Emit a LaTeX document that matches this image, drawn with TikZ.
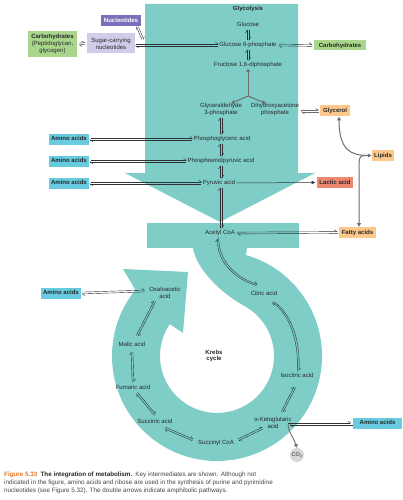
\documentclass[tikz,border=0pt]{standalone}
\usepackage{fontspec}
\setmainfont{Liberation Sans}
\usetikzlibrary{arrows.meta,calc}
\definecolor{tealA}{RGB}{126,205,199}
\definecolor{aminoC}{RGB}{104,203,224}
\definecolor{carbC}{RGB}{170,214,140}
\definecolor{lipC}{RGB}{252,200,140}
\definecolor{lactC}{RGB}{240,135,112}
\definecolor{nucC}{RGB}{124,110,186}
\definecolor{sugC}{RGB}{208,204,234}
\definecolor{txtC}{RGB}{40,40,40}
\definecolor{lineC}{RGB}{45,50,55}
\definecolor{grayA}{RGB}{110,110,110}
\definecolor{co2C}{RGB}{215,215,215}
\definecolor{figC}{RGB}{232,120,40}
\definecolor{capC}{RGB}{70,70,70}
\newcommand\amph[3][]{%
  \draw[harp,#1] ($(#2)!0.9pt!90:(#3)$) -- ($(#3)!0.9pt!-90:(#2)$);
  \draw[harp,#1] ($(#3)!0.9pt!90:(#2)$) -- ($(#2)!0.9pt!-90:(#3)$);}
\begin{document}
\begin{tikzpicture}[x=1pt,y=-1pt,
  harp/.style={draw=lineC, line width=0.4pt, -{Straight Barb[harpoon,length=2.6pt,width=3.6pt]}},
  garr/.style={draw=grayA, line width=1pt, -{Triangle[length=3.6pt,width=3.8pt]}},
  darr/.style={draw=lineC, line width=0.5pt, -{Triangle[length=3.6pt,width=3.4pt]}},
  lbl/.style={inner sep=0.6pt, align=center, text=txtC, font=\fontsize{6}{6.8}\selectfont, text height=4.4pt, text depth=1.2pt},
  bx/.style={inner xsep=2.6pt, inner ysep=2pt, minimum height=11pt, align=center, text=txtC, font=\fontsize{6}{6.8}\selectfont\bfseries, text height=4.4pt, text depth=1.2pt}]
\useasboundingbox (0,0) rectangle (403,500);
\fill[white] (0,0) rectangle (403,500);
% big teal shapes
\fill[tealA] (145,4) -- (298,4) -- (298,173) -- (315,173) -- (220,222) -- (125,173) -- (145,173) -- cycle;
\fill[tealA] (147,223) rectangle (299,248);
\fill[tealA] (193,248) .. controls (196,268) and (220,293) .. (245.5,306.6)
  arc[start angle=-60, end angle=214, radius=57]
  -- (183,333) -- (188,272) -- (123,269) -- (135.4,289.9)
  arc[start angle=219, end angle=-74, radius=105]
  -- (247,248) -- cycle;
% glycolysis labels
\node[lbl,font=\fontsize{6}{6.8}\selectfont\bfseries] (glyc) at (248,9) {Glycolysis};
\node[lbl] (glc) at (248,25) {Glucose};
\node[lbl] (g6p) at (248,45) {Glucose 6-phosphate};
\node[lbl] (f16) at (248,65) {Fructose 1,6-diphosphate};
\node[lbl] (gap) at (221,113) {Glyceraldehyde\\3-phosphate};
\node[lbl] (dhap) at (275,113) {Dihydroxyacetone\\phosphate};
\node[lbl] (pga) at (222,139) {Phosphoglyceric acid};
\node[lbl] (pep) at (221,161) {Phosphoenolpyruvic acid};
\node[lbl] (pyr) at (219,183) {Pyruvic acid};
\node[lbl] (acoa) at (220,233) {Acetyl CoA};
% boxes
\node[bx, fill=nucC, text=white, minimum width=40pt] (nuc) at (121,20.5) {Nucleotides};
\node[bx, fill=sugC, font=\fontsize{6}{6.8}\selectfont, minimum width=48pt, minimum height=20pt, text height=, text depth=] (sug) at (111,43.5) {Sugar-carrying\\nucleotides};
\node[bx, fill=carbC, font=\fontsize{6}{6.8}\selectfont, minimum width=49pt, minimum height=26pt, text height=, text depth=] (carbL) at (52.5,44) {\textbf{Carbohydrates}\\(Peptidoglycan,\\glycogen)};
\node[bx, fill=carbC, minimum width=52pt, minimum height=10pt] (carbR) at (340,45.5) {Carbohydrates};
\node[bx, fill=lipC] (glyl) at (335,111) {Glycerol};
\node[bx, fill=lipC] (lip) at (383,155.5) {Lipids};
\node[bx, fill=lactC] (lact) at (335,182.5) {Lactic acid};
\node[bx, fill=lipC] (fatty) at (357.5,232.5) {Fatty acids};
\node[bx, fill=aminoC] (aa1) at (69,139) {Amino acids};
\node[bx, fill=aminoC] (aa2) at (69,161) {Amino acids};
\node[bx, fill=aminoC] (aa3) at (69,183) {Amino acids};
\node[bx, fill=aminoC] (aa4) at (61,293) {Amino acids};
\node[bx, fill=aminoC, minimum width=49pt] (aa5) at (377.5,423) {Amino acids};
% krebs labels
\node[lbl, text height=, text depth=] (oxa) at (165,292.5) {Oxaloacetic\\acid};
\node[lbl] (cit) at (264,294) {Citric acid};
\node[lbl] (mal) at (132,345) {Malic acid};
\node[lbl, text height=, text depth=, font=\fontsize{6}{6.8}\selectfont\bfseries] (krebs) at (214,356) {Krebs\\cycle};
\node[lbl] (iso) at (297,376) {Isocitric acid};
\node[lbl] (fum) at (133,388) {Fumaric acid};
\node[lbl, text height=, text depth=] (akg) at (273,422.5) {α-Ketoglutaric\\acid};
\node[lbl] (sin) at (155,422) {Succinic acid};
\node[lbl] (scoa) at (216,443) {Succinyl CoA};
\node[circle, fill=co2C, minimum size=14pt, inner sep=0pt, text=txtC, font=\fontsize{5.5}{6}\selectfont] (co2) at (297,455) {CO\textsubscript{2}};
% top-left connectors
\amph[shorten <=1.5pt, shorten >=1.5pt]{carbL.east}{sug.west}
\coordinate (s1) at (sug.east |- g6p.west);
\amph[shorten <=1pt]{s1}{g6p.west}
\coordinate (n1) at ([xshift=-4pt]nuc.south east);
\coordinate (n2) at (143,40);
\amph[shorten <=1pt]{n1}{n2}
\amph[shorten <=1pt, shorten >=1pt]{glc.south}{g6p.north}
\amph[shorten <=1pt, shorten >=1pt]{g6p.south}{f16.north}
\amph[shorten <=1.5pt, shorten >=1.5pt]{g6p.east}{carbR.west}
% branch
\coordinate (br) at (248,96);
\coordinate (bl) at (231,103.5);
\coordinate (bR) at (266,103.5);
\draw[garr] (br) -- (f16.south);
\draw[garr] (br) -- (bl);
\draw[garr] (br) -- (bR);
% glycerol
\coordinate (d1) at (dhap.east |- glyl.west);
\amph[draw=grayA, line width=0.6pt, shorten <=1pt, shorten >=1pt]{d1}{glyl.west}
\draw[draw=grayA, line width=1pt, {Triangle[length=3.6pt,width=3.8pt]}-{Triangle[length=3.6pt,width=3.8pt]}] ([xshift=4pt]glyl.south) .. controls ([xshift=4pt,yshift=-34pt]glyl.south) and ([xshift=-20pt]lip.west) .. (lip.west);
\coordinate (fj) at (366,155.5);
\coordinate (fj2) at (359,168);
\draw[garr] (fj) .. controls (359,155.5) and (359,158) .. (fj2) -- (fj2 |- fatty.north);
% glycolysis chain
\amph[shorten <=1pt, shorten >=1pt]{gap.south}{gap.south |- pga.north}
\coordinate (p1) at (gap.south |- pga.south);
\coordinate (p2) at (gap.south |- pep.north);
\amph[shorten <=1pt, shorten >=1pt]{p1}{p2}
\coordinate (p3) at (gap.south |- pep.south);
\coordinate (p4) at (gap.south |- pyr.north);
\amph[shorten <=1pt, shorten >=1pt]{p3}{p4}
\amph[shorten <=1pt]{aa1.east}{pga.west}
\amph[shorten <=1pt]{aa2.east}{pep.west}
\amph[shorten <=1pt]{aa3.east}{pyr.west}
\draw[darr, shorten <=1pt, shorten >=1.5pt] (pyr.east) -- (lact.west);
\coordinate (p5) at (gap.south |- pyr.south);
\coordinate (p6) at (gap.south |- acoa.north);
\amph[shorten <=1pt, shorten >=1pt]{p5}{p6}
\amph[shorten <=1pt, shorten >=1.5pt]{acoa.east}{fatty.west}
% krebs connectors
\coordinate (k0) at ($(oxa)+(-20,-1.5)$);
\amph[shorten <=1pt]{aa4.east}{k0}
\coordinate (k1) at ($(mal)+(5,-9)$);  \coordinate (k2) at ($(oxa)+(-10,8.5)$);
\amph{k1}{k2}
\coordinate (k3) at ($(fum)+(0,-6)$);  \coordinate (k4) at ($(mal)+(0,7)$);
\amph{k3}{k4}
\coordinate (k5) at ($(sin)+(0,-7)$);  \coordinate (k6) at ($(fum)+(4,5)$);
\amph{k5}{k6}
\coordinate (k7) at ($(sin)+(10,6)$);  \coordinate (k8) at ($(scoa)+(-23,-3)$);
\amph{k7}{k8}
\coordinate (k9) at ($(scoa)+(22,-3)$);  \coordinate (k10) at ($(akg)+(-10,5.5)$);
\amph{k9}{k10}
\coordinate (k11) at ($(akg)+(9,-10.5)$);  \coordinate (k12) at ($(iso)+(-2,11)$);
\amph{k11}{k12}
\coordinate (k13) at ($(iso)+(1,-5)$);  \coordinate (k14) at ($(cit)+(9,8)$);
\coordinate (kc1) at (292,315); \coordinate (kc2) at (300,345);
\draw[harp, transform canvas={shift={(-0.85,0.31)}}] (k13) .. controls (kc2) and (kc1) .. (k14);
\draw[harp, transform canvas={shift={(0.85,-0.31)}}] (k14) .. controls (kc1) and (kc2) .. (k13);
\coordinate (k15) at ($(acoa)+(-2,5)$);  \coordinate (k16) at ($(cit)+(-7,-9)$);
\coordinate (kc3) at (218,262); \coordinate (kc4) at (235,278);
\draw[harp, transform canvas={shift={(0.69,-0.58)}}] (k15) .. controls (kc3) and (kc4) .. (k16);
\draw[harp, transform canvas={shift={(-0.69,0.58)}}] (k16) .. controls (kc4) and (kc3) .. (k15);
\coordinate (k17) at (288,424);
\amph[shorten >=1.5pt]{k17}{k17 -| aa5.west}
\draw[garr, line width=0.9pt] (k17) .. controls (289,434) and (292,434) .. (co2.north);
% caption
\node[anchor=north west, inner sep=0pt, align=left, text=capC, font=\fontsize{6.3}{8}\selectfont] (cap) at (4,472) {\textcolor{figC}{\bfseries Figure 5.33}\enspace{\color{txtC}\bfseries The integration of metabolism.}\enspace Key intermediates are shown. Although not\\indicated in the figure, amino acids and ribose are used in the synthesis of purine and pyrimidine\\nucleotides (see Figure 5.32). The double arrows indicate amphibolic pathways.};
\end{tikzpicture}
\end{document}
